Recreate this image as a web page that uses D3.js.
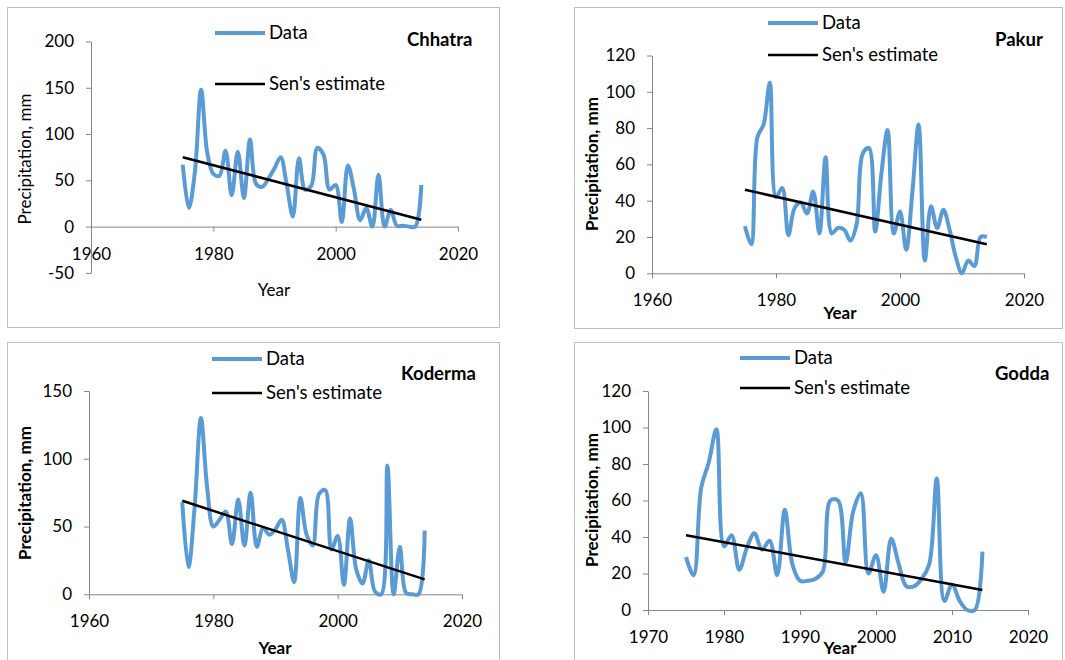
<html>
<head>
<meta charset="utf-8">
<script src="https://d3js.org/d3.v7.min.js"></script>
<style>
  body { margin: 0; background: #fff; }
  svg text { font-family: Lato, "Open Sans", sans-serif; fill: #000; }
  .axis path, .axis line { stroke: #868686; }
  .axis text { font-size: 17px; }
</style>
</head>
<body>
<script>
var years = [1975, 1976, 1977, 1978, 1979, 1980, 1981, 1982, 1983, 1984,
             1985, 1986, 1987, 1988, 1989, 1990, 1991, 1992, 1993, 1994,
             1995, 1996, 1997, 1998, 1999, 2000, 2001, 2002, 2003, 2004,
             2005, 2006, 2007, 2008, 2009, 2010, 2011, 2012, 2013, 2014];

var chhatra = [67, 20, 60, 148, 80, 57, 55, 82, 34, 81,
               31, 94, 46, 43, 52, 63, 75, 45, 11, 74,
               40, 44, 85, 78, 40, 45, 5, 66, 40, 7,
               20, 0, 56, 0, 18, 1, 1, 0, 0, 45];
var pakur = [26, 16, 75, 82, 105, 42, 47, 21, 36, 39,
             33, 45, 22, 64, 22, 25, 24, 18, 27, 66,
             69, 23, 55, 79, 22, 34, 13, 45, 82, 7,
             37, 25, 35, 24, 9, 0, 7, 4, 20, 20];
var koderma = [68, 20, 65, 130, 79, 50, 55, 61, 37, 70,
               36, 75, 35, 49, 44, 48, 55, 33, 9, 71,
               44, 36, 74, 77, 33, 43, 7, 56, 18, 8,
               25, 2, 0, 95, 0, 35, 1, 0, 0, 47];
var godda = [29, 19, 67, 81, 99, 35, 41, 22, 34, 42,
             33, 38, 19, 55, 25, 16, 16, 17, 21, 60,
             60, 26, 54, 64, 20, 30, 10, 39, 25, 13,
             13, 17, 25, 72, 5, 14, 5, 0, 0, 32];

// Sen's slope lines: value at first and last year
var senYears = [1975, 2014];
var chhatraSen = [75, 7.5];
var pakurSen = [46, 16];
var kodermaSen = [69, 11];
var goddaSen = [41, 11];

var xTicksA = [1960, 1980, 2000, 2020];
var xTicksB = [1970, 1980, 1990, 2000, 2010, 2020];
var yTicksChhatra = [-50, 0, 50, 100, 150, 200];
var yTicksPakur = [0, 20, 40, 60, 80, 100, 120];
var yTicksKoderma = [0, 50, 100, 150];
var yTicksGodda = [0, 20, 40, 60, 80, 100, 120];

var svg = d3.select("body").append("svg")
  .attr("width", 1065)
  .attr("height", 660);

var smooth = d3.curveCatmullRom.alpha(0.5);
var plain = function(d) { return String(d); };

function drawPanel(p) {
  var g = svg.append("g");

  g.append("rect")
    .attr("x", p.box[0] + 0.5).attr("y", p.box[1] + 0.5)
    .attr("width", p.box[2]).attr("height", p.box[3])
    .attr("fill", "none").attr("stroke", "#bfbfbf");

  var x = d3.scaleLinear()
    .domain([p.xTicks[0], p.xTicks[p.xTicks.length - 1]])
    .range([p.xr[0], p.xr[1]]);
  var y = d3.scaleLinear()
    .domain([p.yTicks[0], p.yTicks[p.yTicks.length - 1]])
    .range([p.yr[0], p.yr[1]]);

  g.append("g").attr("class", "axis")
    .attr("transform", "translate(0," + y(0) + ")")
    .call(d3.axisBottom(x).tickValues(p.xTicks).tickFormat(plain)
      .tickSize(5).tickSizeOuter(0).tickPadding(16))
    .call(function(a) { a.select(".domain").attr("d", "M" + x.range()[0] + ",0.5H" + x.range()[1]); });

  g.append("g").attr("class", "axis")
    .attr("transform", "translate(" + x.range()[0] + ",0)")
    .call(d3.axisLeft(y).tickValues(p.yTicks).tickFormat(plain)
      .tickSize(5).tickSizeOuter(0).tickPadding(12));

  var line = d3.line()
    .x(function(d, i) { return x(years[i]); })
    .y(function(d) { return y(d); })
    .curve(smooth);

  g.append("path").datum(p.data)
    .attr("d", line)
    .attr("fill", "none").attr("stroke", "#5b9bd5")
    .attr("stroke-width", 4).attr("stroke-linejoin", "round");

  var sen = d3.line()
    .x(function(d, i) { return x(senYears[i]); })
    .y(function(d) { return y(d); });

  g.append("path").datum(p.sen)
    .attr("d", sen)
    .attr("fill", "none").attr("stroke", "#000").attr("stroke-width", 2.5);

  // legend
  var lg = g.append("g");
  lg.append("line")
    .attr("x1", p.leg[0]).attr("x2", p.leg[0] + 50)
    .attr("y1", p.leg[1]).attr("y2", p.leg[1])
    .attr("stroke", "#5b9bd5").attr("stroke-width", 4);
  lg.append("text").attr("x", p.leg[0] + 54).attr("y", p.leg[1])
    .attr("dy", "0.35em").style("font-size", "18.5px").text("Data");
  lg.append("line")
    .attr("x1", p.leg[0]).attr("x2", p.leg[0] + 50)
    .attr("y1", p.leg[2]).attr("y2", p.leg[2])
    .attr("stroke", "#000").attr("stroke-width", 2.5);
  lg.append("text").attr("x", p.leg[0] + 54).attr("y", p.leg[2])
    .attr("dy", "0.35em").style("font-size", "18.5px").text("Sen's estimate");

  g.append("text")
    .attr("x", p.title[0]).attr("y", p.title[1]).attr("dy", "0.35em")
    .style("font-size", "18.5px").style("font-weight", "bold")
    .text(p.name);

  g.append("text")
    .attr("transform", "translate(" + p.ylab[0] + "," + p.ylab[1] + ") rotate(-90)")
    .attr("text-anchor", "middle").attr("dy", "0.35em")
    .style("font-size", "17px").style("font-weight", p.bold ? "bold" : "normal")
    .text("Precipitation, mm");

  g.append("text")
    .attr("x", p.xlab[0]).attr("y", p.xlab[1])
    .attr("text-anchor", "middle").attr("dy", "0.35em")
    .style("font-size", "17px").style("font-weight", p.bold ? "bold" : "normal")
    .text("Year");
}

drawPanel({ name: "Chhatra", data: chhatra, sen: chhatraSen,
  xTicks: xTicksA, yTicks: yTicksChhatra, bold: false,
  box: [7, 7, 492, 320], xr: [91, 458], yr: [272.9, 41.5],
  leg: [215, 33, 84], title: [407, 40], ylab: [25, 159], xlab: [274, 290] });

drawPanel({ name: "Pakur", data: pakur, sen: pakurSen,
  xTicks: xTicksA, yTicks: yTicksPakur, bold: true,
  box: [574, 7, 488, 321], xr: [652, 1024], yr: [273.3, 55.5],
  leg: [768, 23, 55], title: [995, 40], ylab: [592, 164], xlab: [840, 313] });

drawPanel({ name: "Koderma", data: koderma, sen: kodermaSen,
  xTicks: xTicksA, yTicks: yTicksKoderma, bold: true,
  box: [7, 342, 492, 330], xr: [89, 462], yr: [594.3, 391],
  leg: [212, 359, 393], title: [401, 374], ylab: [25, 493], xlab: [275, 648] });

drawPanel({ name: "Godda", data: godda, sen: goddaSen,
  xTicks: xTicksB, yTicks: yTicksGodda, bold: true,
  box: [574, 342, 488, 330], xr: [648, 1028], yr: [610, 391],
  leg: [740, 358, 388], title: [995, 374], ylab: [592, 500], xlab: [840, 648] });
</script>
</body>
</html>
